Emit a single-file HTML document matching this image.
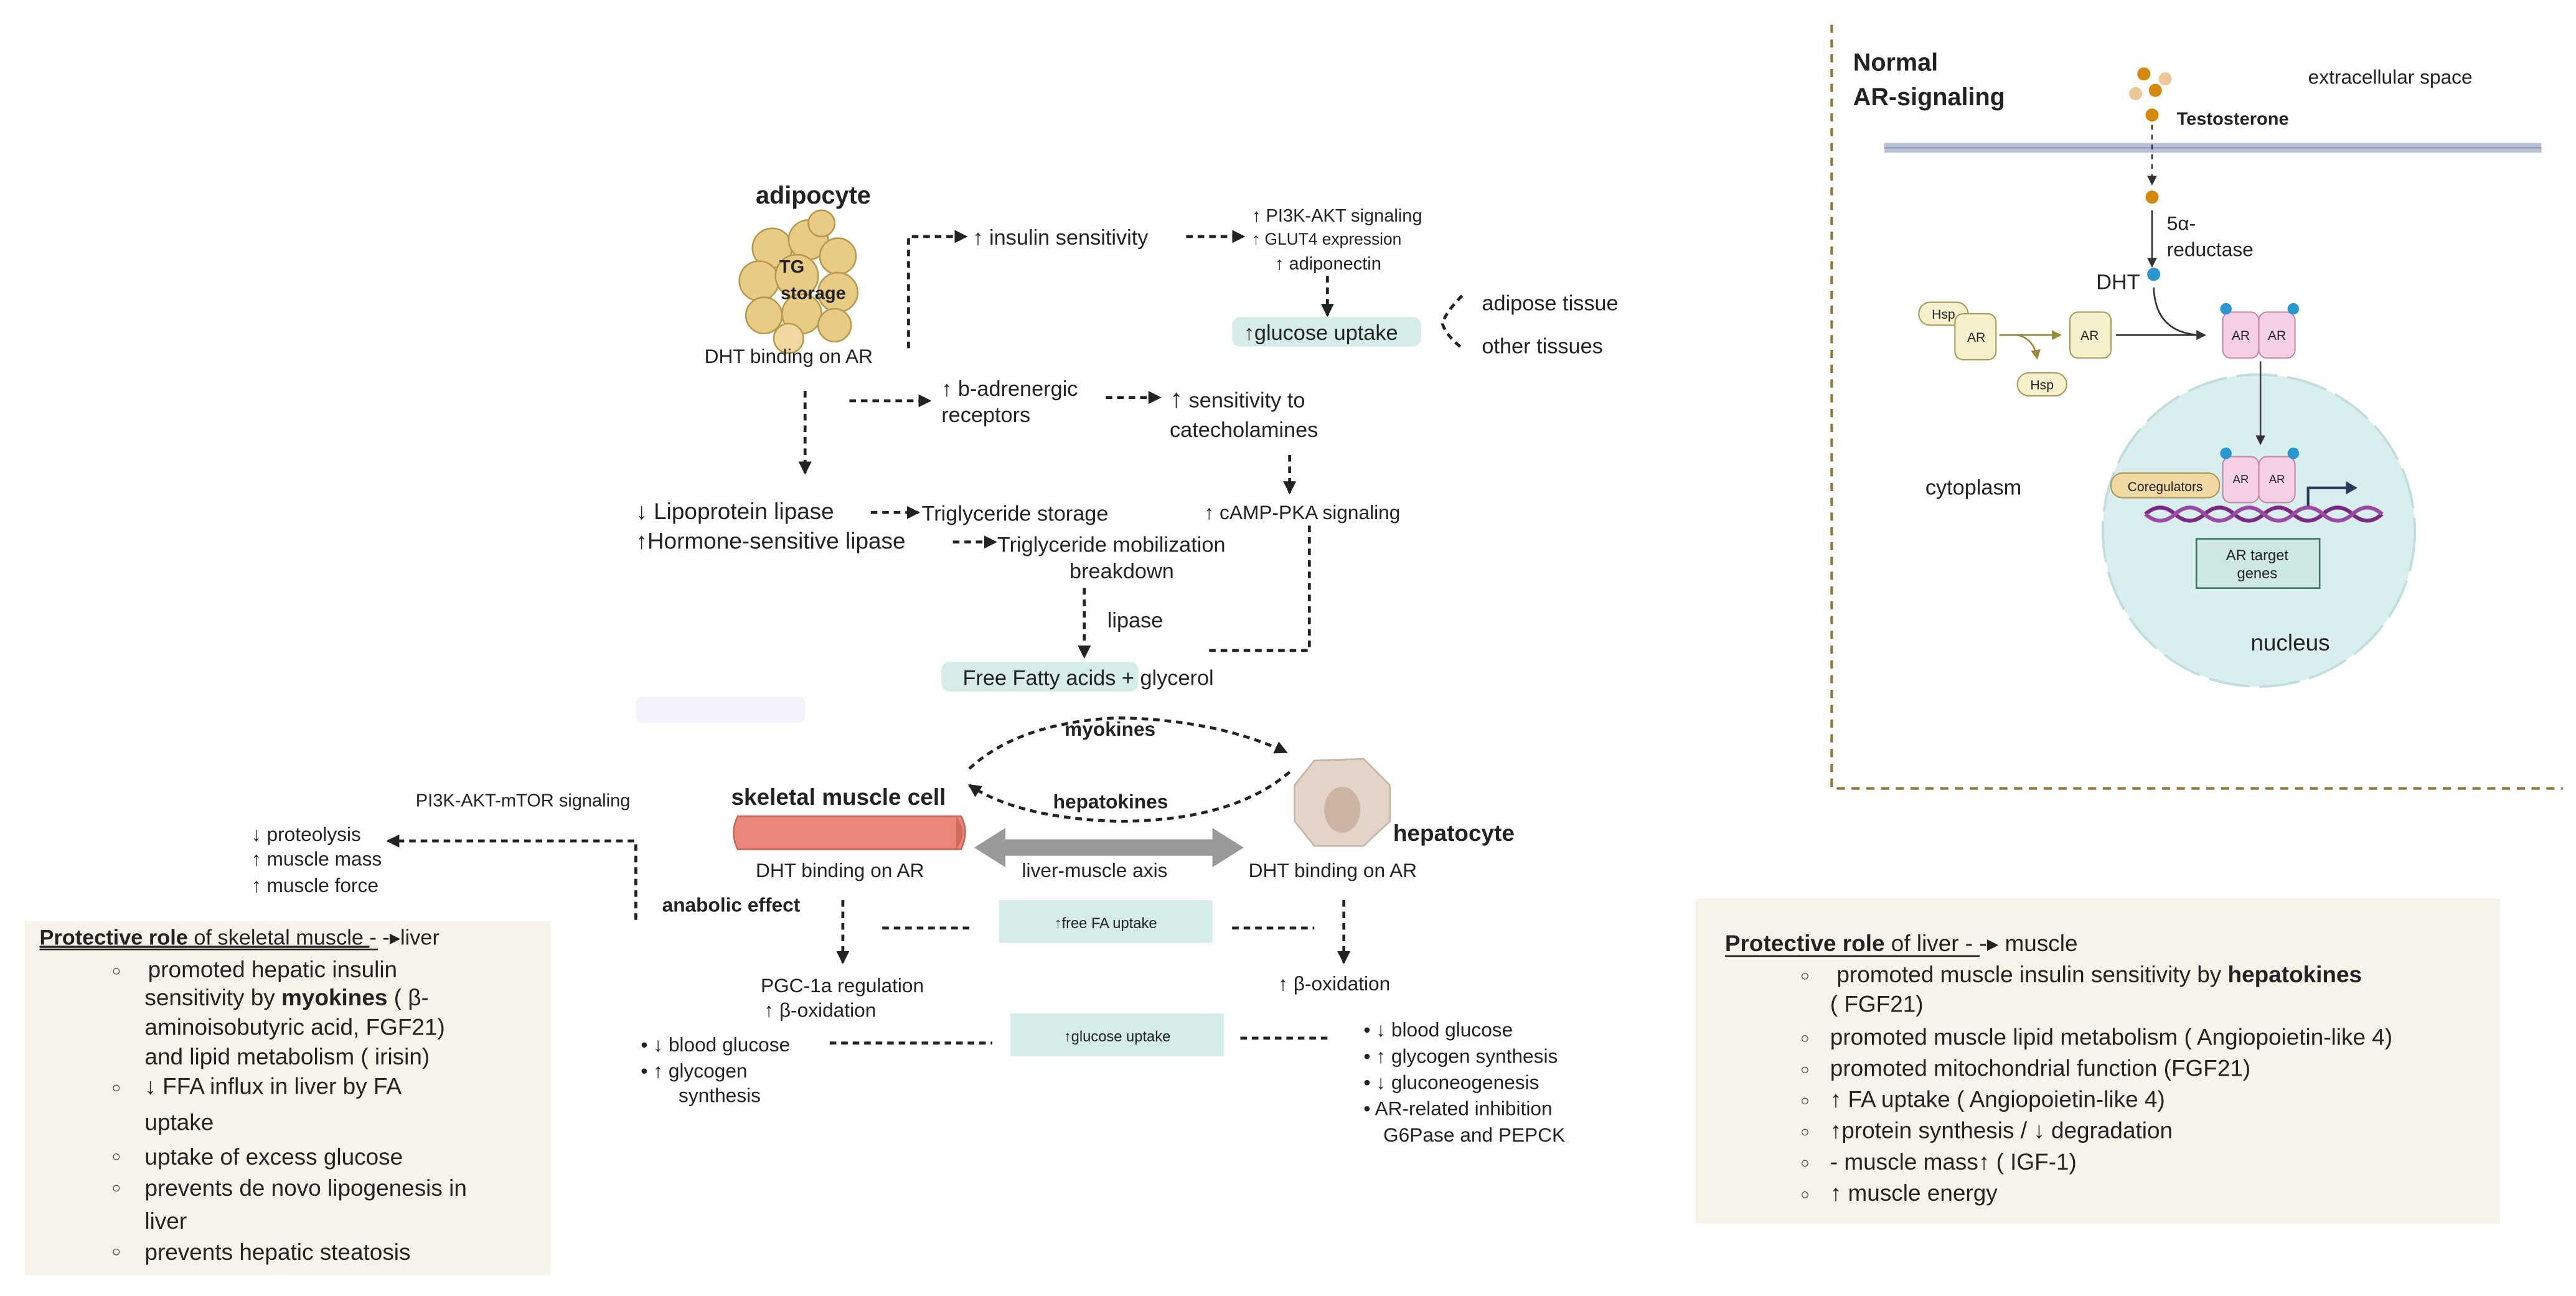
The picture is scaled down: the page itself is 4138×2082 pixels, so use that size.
<!DOCTYPE html>
<html><head><meta charset="utf-8"><style>
html,body{margin:0;padding:0;background:#fff}
svg{display:block}
text{font-family:"Liberation Sans",sans-serif;fill:#222}
.b{font-weight:bold}
</style></head><body>
<svg width="4138" height="2082" viewBox="0 0 1568 789" xmlns="http://www.w3.org/2000/svg">
<defs>
<marker id="ah" markerWidth="8" markerHeight="8" refX="7" refY="4" orient="auto" markerUnits="userSpaceOnUse"><path d="M0,0 L8,4 L0,8 z" fill="#222"/></marker>
<marker id="as" markerWidth="6" markerHeight="6" refX="5" refY="3" orient="auto" markerUnits="userSpaceOnUse"><path d="M0,0 L6,3 L0,6 z" fill="#333"/></marker>
<marker id="ao" markerWidth="6" markerHeight="6" refX="5" refY="3" orient="auto" markerUnits="userSpaceOnUse"><path d="M0,0 L6,3 L0,6 z" fill="#9a8a3a"/></marker>
</defs>
<g stroke="#222" stroke-width="1.8" stroke-dasharray="4,3" fill="none">
<path d="M553,212 V144 H588" marker-end="url(#ah)"/>
<path d="M722,144 H757" marker-end="url(#ah)"/>
<path d="M808,168 V192" marker-end="url(#ah)"/>
<path d="M890,180 Q880,190 878,197 Q880,204 890,212" />
<path d="M490,238 V288" marker-end="url(#ah)"/>
<path d="M517,244 H566" marker-end="url(#ah)"/>
<path d="M673,242 H706" marker-end="url(#ah)"/>
<path d="M785,277 V300" marker-end="url(#ah)"/>
<path d="M530,312 H559" marker-end="url(#ah)"/>
<path d="M580,330 H606" marker-end="url(#ah)"/>
<path d="M660,358 V400" marker-end="url(#ah)"/>
<path d="M797,320 V396 H735"/>
<path d="M590,468 Q620,440 680,437 Q740,438 783,458" marker-end="url(#ah)"/>
<path d="M785,470 Q750,500 680,500 Q620,498 590,478" marker-end="url(#ah)"/>
<path d="M387,560 V512 H236" marker-end="url(#ah)"/>
<path d="M513,548 V586" marker-end="url(#ah)"/>
<path d="M818,548 V586" marker-end="url(#ah)"/>
<path d="M537,565 H590"/>
<path d="M750,565 H800"/>
<path d="M505,635 H604"/>
<path d="M755,632 H808"/>
</g>
<!-- adipocyte -->
<g stroke="#b89a4a" stroke-width="1" fill="#e8cc86" transform="translate(0,6)">
<circle cx="470" cy="145" r="12"/><circle cx="492" cy="140" r="12"/><circle cx="510" cy="150" r="11"/>
<circle cx="462" cy="165" r="12"/><circle cx="485" cy="162" r="13"/><circle cx="510" cy="172" r="12"/>
<circle cx="465" cy="186" r="11"/><circle cx="488" cy="185" r="12"/><circle cx="508" cy="192" r="10"/>
<circle cx="480" cy="200" r="9" fill="#efd9a0"/><circle cx="500" cy="130" r="8"/>
</g>
<text x="495" y="124" font-size="15" class="b" text-anchor="middle">adipocyte</text>
<text x="482" y="166" font-size="11" class="b" text-anchor="middle">TG</text>
<text x="495" y="182" font-size="11" class="b" text-anchor="middle">storage</text>
<text x="480" y="221" font-size="12" text-anchor="middle">DHT binding on AR</text>
<text x="592" y="149" font-size="13">↑ insulin sensitivity</text>
<text x="762" y="135" font-size="11">↑ PI3K-AKT signaling</text>
<text x="762" y="149" font-size="10">↑ GLUT4 expression</text>
<text x="776" y="164" font-size="11">↑ adiponectin</text>
<rect x="750" y="193" width="115" height="18" rx="5" fill="#d6ece8"/>
<text x="757" y="207" font-size="13">↑glucose uptake</text>
<text x="902" y="189" font-size="13">adipose tissue</text>
<text x="902" y="215" font-size="13">other  tissues</text>
<text x="573" y="241" font-size="13">↑ b-adrenergic</text>
<text x="573" y="257" font-size="13">receptors</text>
<text x="712" y="248" font-size="13"><tspan font-size="16">↑</tspan> sensitivity to</text>
<text x="712" y="266" font-size="13">catecholamines</text>
<text x="733" y="316" font-size="12">↑ cAMP-PKA signaling</text>
<text x="387" y="316" font-size="14">↓ Lipoprotein lipase</text>
<text x="561" y="317" font-size="13">Triglyceride  storage</text>
<text x="387" y="334" font-size="14">↑Hormone-sensitive lipase</text>
<text x="607" y="336" font-size="13">Triglyceride mobilization</text>
<text x="651" y="352" font-size="13">breakdown</text>
<text x="674" y="382" font-size="13">lipase</text>
<rect x="573" y="403" width="120" height="18" rx="5" fill="#d6ece8"/>
<text x="586" y="417" font-size="13">Free Fatty acids + glycerol</text>
<rect x="387" y="424" width="103" height="16" rx="4" fill="#f4f3fb"/>
<!-- muscle/liver -->
<text x="648" y="448" font-size="12" class="b">myokines</text>
<text x="641" y="492" font-size="12" class="b">hepatokines</text>
<text x="445" y="490" font-size="14" class="b">skeletal muscle cell</text>
<path d="M449,497 H585 Q590,506 585,517 H449 Q444,507 449,497 z" fill="#e98878" stroke="#c86656"/>
<path d="M582,497 Q590,507 582,517" fill="#d06a5a"/>
<text x="460" y="534" font-size="12">DHT binding on AR</text>
<path d="M800,463 L830,462 L846,478 L846,500 L830,515 L800,515 L788,500 L788,478 z" fill="#e3d4c8" stroke="#c8b4a4"/>
<ellipse cx="817" cy="493" rx="11" ry="14" fill="#cdb5a6"/>
<text x="848" y="512" font-size="14" class="b">hepatocyte</text>
<path d="M593,516 L612,504 L612,511 L738,511 L738,504 L757,516 L738,528 L738,521 L612,521 L612,528 z" fill="#999"/>
<text x="622" y="534" font-size="12">liver-muscle axis</text>
<text x="760" y="534" font-size="12">DHT binding on AR</text>
<text x="253" y="491" font-size="11">PI3K-AKT-mTOR signaling</text>
<text x="153" y="512" font-size="12">↓ proteolysis</text>
<text x="153" y="527" font-size="12">↑ muscle mass</text>
<text x="153" y="543" font-size="12">↑ muscle force</text>
<text x="403" y="555" font-size="12" class="b">anabolic effect</text>
<rect x="608" y="548" width="130" height="26" fill="#d6ece8"/>
<text x="673" y="565" font-size="9" text-anchor="middle">↑free FA uptake</text>
<rect x="615" y="617" width="130" height="26" fill="#d6ece8"/>
<text x="680" y="634" font-size="9" text-anchor="middle">↑glucose uptake</text>
<text x="463" y="604" font-size="12">PGC-1a regulation</text>
<text x="465" y="619" font-size="12">↑ β-oxidation</text>
<text x="778" y="603" font-size="12">↑ β-oxidation</text>
<text x="390" y="640" font-size="12">•  ↓ blood glucose</text>
<text x="390" y="656" font-size="12">•  ↑ glycogen</text>
<text x="413" y="671" font-size="12">synthesis</text>
<text x="830" y="631" font-size="12">•  ↓ blood glucose</text>
<text x="830" y="647" font-size="12">•  ↑ glycogen synthesis</text>
<text x="830" y="663" font-size="12">•  ↓ gluconeogenesis</text>
<text x="830" y="679" font-size="12">•  AR-related inhibition</text>
<text x="842" y="695" font-size="12">G6Pase and PEPCK</text>
<!-- left box -->
<rect x="15" y="561" width="320" height="215" fill="#f7f3eb"/>
<text x="24" y="575" font-size="13"><tspan class="b" text-decoration="underline">Protective role</tspan><tspan text-decoration="underline"> of skeletal muscle </tspan> - -▸liver</text>
<line x1="24" y1="578" x2="230" y2="578" stroke="#222" stroke-width="1"/>
<g font-size="14">
<text x="68" y="594" font-size="9">○</text><text x="90" y="595">promoted hepatic insulin</text>
<text x="88" y="612">sensitivity by <tspan class="b">myokines</tspan> ( β-</text>
<text x="88" y="630">aminoisobutyric acid,  FGF21)</text>
<text x="88" y="648">and lipid metabolism ( irisin)</text>
<text x="68" y="665" font-size="9">○</text><text x="88" y="666">↓ FFA  influx in liver by FA</text>
<text x="88" y="688">uptake</text>
<text x="68" y="707" font-size="9">○</text><text x="88" y="709">uptake of excess glucose</text>
<text x="68" y="726" font-size="9">○</text><text x="88" y="728">prevents de novo lipogenesis in</text>
<text x="88" y="748">liver</text>
<text x="68" y="765" font-size="9">○</text><text x="88" y="767">prevents hepatic steatosis</text>
</g>
<!-- right box -->
<rect x="1032" y="547" width="490" height="198" fill="#f7f3eb"/>
<text x="1050" y="579" font-size="14"><tspan class="b">Protective role</tspan> of liver - -▸ muscle</text>
<line x1="1050" y1="582" x2="1205" y2="582" stroke="#222" stroke-width="1"/>
<g font-size="14">
<text x="1096" y="597" font-size="9">○</text><text x="1118" y="598">promoted muscle insulin sensitivity by <tspan class="b">hepatokines</tspan></text>
<text x="1114" y="616">( FGF21)</text>
<text x="1096" y="635" font-size="9">○</text><text x="1114" y="636">promoted muscle lipid metabolism ( Angiopoietin-like 4)</text>
<text x="1096" y="654" font-size="9">○</text><text x="1114" y="655">promoted mitochondrial function (FGF21)</text>
<text x="1096" y="673" font-size="9">○</text><text x="1114" y="674">↑ FA uptake  ( Angiopoietin-like 4)</text>
<text x="1096" y="692" font-size="9">○</text><text x="1114" y="693">↑protein synthesis  /  ↓  degradation</text>
<text x="1096" y="711" font-size="9">○</text><text x="1114" y="712">- muscle mass↑ ( IGF-1)</text>
<text x="1096" y="730" font-size="9">○</text><text x="1114" y="731">↑ muscle energy</text>
</g>
<!-- AR panel -->
<path d="M1115,15 V480 H1560" fill="none" stroke="#8a7a3a" stroke-width="1.6" stroke-dasharray="5,4"/>
<text x="1128" y="43" font-size="15" class="b">Normal</text>
<text x="1128" y="64" font-size="15" class="b">AR-signaling</text>
<text x="1405" y="51" font-size="12">extracellular space</text>
<circle cx="1305" cy="45" r="4" fill="#d4880e"/><circle cx="1318" cy="48" r="4" fill="#ecc898"/>
<circle cx="1312" cy="55" r="4" fill="#d4880e"/><circle cx="1300" cy="57" r="4" fill="#ecc898"/>
<circle cx="1310" cy="70" r="4" fill="#d4880e"/>
<text x="1325" y="76" font-size="11" class="b">Testosterone</text>
<rect x="1147" y="87" width="400" height="6" fill="#b7c2d6"/>
<line x1="1147" y1="90" x2="1547" y2="90" stroke="#8d9cb6" stroke-width="0.8"/>
<path d="M1310,76 V112" stroke="#333" stroke-dasharray="3,3" fill="none" marker-end="url(#as)"/>
<circle cx="1310" cy="120" r="4" fill="#d4880e"/>
<path d="M1310,128 V162" stroke="#333" fill="none" marker-end="url(#as)"/>
<text x="1319" y="140" font-size="12">5α-</text>
<text x="1319" y="156" font-size="12">reductase</text>
<text x="1276" y="176" font-size="13">DHT</text>
<circle cx="1311" cy="167" r="4" fill="#2a97d0"/>
<path d="M1311,175 Q1312,203 1340,204" stroke="#333" fill="none"/>
<rect x="1168" y="184" width="30" height="14" rx="7" fill="#f6f0cc" stroke="#a89a5a" stroke-width="0.8"/>
<text x="1183" y="194" font-size="8" text-anchor="middle">Hsp</text>
<rect x="1190" y="191" width="25" height="28" rx="5" fill="#f6f0cc" stroke="#a89a5a" stroke-width="0.8"/>
<text x="1203" y="208" font-size="8" text-anchor="middle">AR</text>
<path d="M1217,204 H1254" stroke="#9a8a3a" fill="none" marker-end="url(#ao)"/>
<path d="M1228,204 Q1238,206 1240,218" stroke="#9a8a3a" fill="none" marker-end="url(#ao)"/>
<rect x="1228" y="227" width="30" height="14" rx="7" fill="#f6f0cc" stroke="#a89a5a" stroke-width="0.8"/>
<text x="1243" y="237" font-size="8" text-anchor="middle">Hsp</text>
<rect x="1260" y="190" width="25" height="28" rx="5" fill="#f6f0cc" stroke="#a89a5a" stroke-width="0.8"/>
<text x="1272" y="207" font-size="8" text-anchor="middle">AR</text>
<path d="M1288,204 H1342" stroke="#333" fill="none" marker-end="url(#as)"/>
<rect x="1353" y="190" width="22" height="28" rx="5" fill="#f6d0e4" stroke="#c488a8" stroke-width="0.8"/>
<rect x="1375" y="190" width="22" height="28" rx="5" fill="#f6d0e4" stroke="#c488a8" stroke-width="0.8"/>
<text x="1364" y="207" font-size="8" text-anchor="middle">AR</text><text x="1386" y="207" font-size="8" text-anchor="middle">AR</text>
<circle cx="1355" cy="188" r="3.5" fill="#2a97d0"/><circle cx="1396" cy="188" r="3.5" fill="#2a97d0"/>
<circle cx="1375" cy="323" r="95" fill="#d9eeee" stroke="#c0dede" stroke-width="1.5" stroke-dasharray="25,6"/>
<path d="M1376,220 V270" stroke="#444" fill="none" marker-end="url(#as)"/>
<text x="1172" y="301" font-size="13">cytoplasm</text>
<rect x="1353" y="278" width="22" height="28" rx="5" fill="#f6d0e4" stroke="#c488a8" stroke-width="0.8"/>
<rect x="1375" y="278" width="22" height="28" rx="5" fill="#f6d0e4" stroke="#c488a8" stroke-width="0.8"/>
<text x="1364" y="294" font-size="7" text-anchor="middle">AR</text><text x="1386" y="294" font-size="7" text-anchor="middle">AR</text>
<circle cx="1355" cy="276" r="3.5" fill="#2a97d0"/><circle cx="1396" cy="276" r="3.5" fill="#2a97d0"/>
<rect x="1285" y="288" width="66" height="15" rx="7" fill="#f2d9a4" stroke="#a89a5a" stroke-width="0.8"/>
<text x="1318" y="299" font-size="8" text-anchor="middle">Coregulators</text>
<path d="M1306,313 q9,-8 18,0 t18,0 t18,0 t18,0 t18,0 t18,0 t18,0 t18,0" stroke="#7a2a86" stroke-width="2.4" fill="none"/>
<path d="M1306,313 q9,8 18,0 t18,0 t18,0 t18,0 t18,0 t18,0 t18,0 t18,0" stroke="#9a4aa6" stroke-width="2.4" fill="none"/>
<path d="M1405,308 V297 H1430" stroke="#2a3a5a" stroke-width="1.6" fill="none"/>
<path d="M1428,293 L1435,297 L1428,301 z" fill="#2a3a5a"/>
<rect x="1337" y="328" width="75" height="30" fill="#cde7e2" stroke="#3d7a6a" stroke-width="1"/>
<text x="1374" y="341" font-size="9" text-anchor="middle">AR target</text>
<text x="1374" y="352" font-size="9" text-anchor="middle">genes</text>
<text x="1370" y="396" font-size="14">nucleus</text>
</svg>
</body></html>
